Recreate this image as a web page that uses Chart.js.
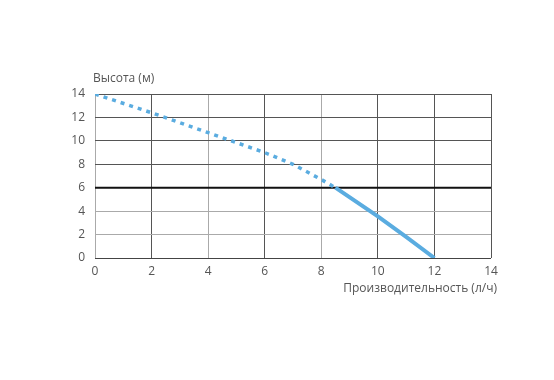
<!DOCTYPE html>
<html><head><meta charset="utf-8">
<script src="https://cdn.jsdelivr.net/npm/chart.js@4/dist/chart.umd.min.js"></script>
<style>html,body{margin:0;padding:0;background:#fff}</style>
</head><body>
<canvas id="c" width="554" height="380"></canvas>
<script>
const xTicks = [0, 2, 4, 6, 8, 10, 12, 14];
const yTicks = [0, 2, 4, 6, 8, 10, 12, 14];
const dottedX = [0, 2, 4, 6, 7, 8, 8.5];
const dottedY = [14, 12.4, 10.7, 9.0, 8.0, 6.7, 6.0];
const solidX = [8.5, 10, 11, 12];
const solidY = [6.0, 3.55, 1.8, 0];
const refLineY = 6;
const yTitle = 'Высота (м)';
const xTitle = 'Производительность (л/ч)';

const FONT = '"Open Sans", sans-serif';
const TXT = '#555';
const BLUE = '#5aace0';

const titles = {
  id: 'titles',
  afterDraw(chart) {
    const {ctx, chartArea} = chart;
    ctx.save();
    ctx.fillStyle = TXT;
    ctx.font = '12px ' + FONT;
    ctx.textBaseline = 'middle';
    ctx.textAlign = 'left';
    ctx.fillText(yTitle, chartArea.left - 2, chartArea.top - 15);
    ctx.textAlign = 'right';
    ctx.fillText(xTitle, chartArea.right + 6, chartArea.bottom + 31);
    ctx.restore();
  }
};

const pts = (xs, ys) => xs.map((x, i) => ({x, y: ys[i]}));
const darkX = new Set([2, 6, 10, 12, 14]);
const lightY = new Set([2, 4]);

new Chart(document.getElementById('c'), {
  type: 'scatter',
  data: {
    datasets: [
      { data: pts([0, 14], [refLineY, refLineY]), showLine: true, borderColor: '#111', borderWidth: 2, pointRadius: 0, order: 3 },
      { data: pts(dottedX, dottedY), showLine: true, borderColor: BLUE, borderWidth: 3.5, borderDash: [4, 5], pointRadius: 0, tension: 0, order: 1 },
      { data: pts(solidX, solidY), showLine: true, borderColor: BLUE, borderWidth: 4, pointRadius: 0, tension: 0, order: 2 }
    ]
  },
  options: {
    responsive: false,
    animation: false,
    layout: { padding: { left: 0, top: 94, right: 63, bottom: 100 } },
    plugins: { legend: { display: false }, tooltip: { enabled: false } },
    scales: {
      x: {
        type: 'linear', min: 0, max: 14,
        afterBuildTicks: s => { s.ticks = xTicks.map(v => ({value: v})); },
        afterFit: s => { s.height = 22; },
        border: { display: false },
        grid: {
          color: c => darkX.has(c.tick.value) ? '#555' : '#aaa',
          lineWidth: 1, drawTicks: false
        },
        ticks: { color: TXT, font: { family: FONT, size: 12 }, padding: 6, maxRotation: 0 }
      },
      y: {
        type: 'linear', min: 0, max: 14,
        afterBuildTicks: s => { s.ticks = yTicks.map(v => ({value: v})); },
        afterFit: s => { s.width = 95; },
        border: { display: false },
        grid: {
          color: c => c.tick.value === 0 ? '#444' : (lightY.has(c.tick.value) ? '#aaa' : '#555'),
          lineWidth: 1, drawTicks: false
        },
        ticks: { color: TXT, font: { family: FONT, size: 12 }, padding: 10 }
      }
    }
  },
  plugins: [titles]
});
</script>
</body></html>
